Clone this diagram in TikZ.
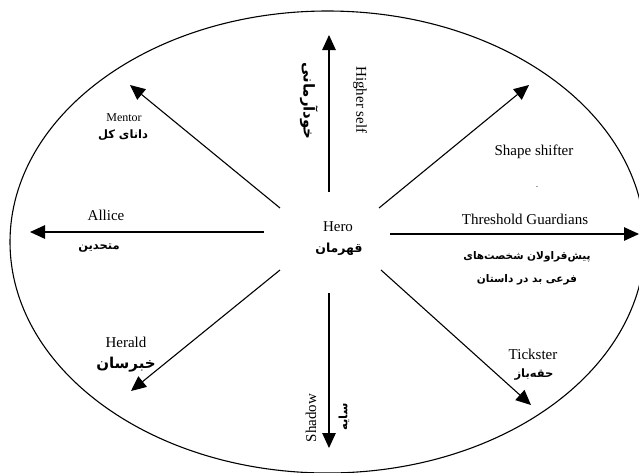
\documentclass[tikz,border=0pt]{standalone}
\usepackage{fontspec}
\setmainfont{Liberation Serif}
\newfontfamily\arabicfont[Script=Arabic]{DejaVu Sans}
\TeXXeTstate=1
\usetikzlibrary{arrows.meta}
\begin{document}
\begin{tikzpicture}[x=1pt,y=-1pt,
  arr/.style={line width=1.1pt,-{Triangle[length=15pt,width=13.5pt]}},
  en/.style={inner sep=0pt,font=\fontsize{15}{17}\selectfont},
  ensm/.style={inner sep=0pt,font=\fontsize{12}{14}\selectfont},
  fa/.style={inner sep=0pt,font=\arabicfont\bfseries\fontsize{#1}{#1}\selectfont}]
\useasboundingbox (0,0) rectangle (639,472);
\draw[line width=1.1pt] (327.5,242) ellipse [x radius=317.5pt, y radius=231pt];
% centre
\node[en] (hero) at (338,227) {Hero};
\node[fa=12.5] (herofa) at (339,249) {\beginR قهرمان\endR};
% arrow ends
\coordinate (sU) at (329,192); \coordinate (tU) at (329,35);
\coordinate (sD) at (329,293); \coordinate (tD) at (329,448);
\coordinate (sL) at (264,232); \coordinate (tL) at (30,232);
\coordinate (sR) at (390,234); \coordinate (tR) at (639,234);
\coordinate (sM) at (280,208); \coordinate (tM) at (130,85);
\coordinate (sS) at (379,208); \coordinate (tS) at (529,85);
\coordinate (sH) at (280,270); \coordinate (tH) at (131,391);
\coordinate (sT) at (381,270); \coordinate (tT) at (531,405);
\foreach \a in {U,D,L,R,M,S,H,T} \draw[arr] (s\a) -- (t\a);
% labels
\node[en,rotate=-90] (higher) at (360,100) {Higher self};
\node[fa=15,rotate=-90] (higherfa) at (309,101) {\beginR خودآرمانی\endR};
\node[ensm] (mentor) at (124,118) {Mentor};
\node[fa=11.5] (mentorfa) at (123,135) {\beginR دانای کل\endR};
\node[en] (allice) at (106,215) {Allice};
\node[fa=11.5] (allicefa) at (99,248) {\beginR متحدین\endR};
\node[en] (shape) at (534,152) {Shape shifter};
\node[inner sep=0pt,font=\fontsize{6}{6}\selectfont] (mark) at (537,188) {-};
\node[en] (thresh) at (525,219) {Threshold Guardians};
\node[fa=10.5] (threshfa1) at (527,257) {\beginR پیش‌قراولان شخصت‌های\endR};
\node[fa=10.5] (threshfa2) at (527,280) {\beginR فرعی بد در داستان\endR};
\node[en] (herald) at (126,342) {Herald};
\node[fa=15] (heraldfa) at (126,365) {\beginR خبرسان\endR};
\node[en] (trick) at (533,354) {Tickster};
\node[fa=11.5] (trickfa) at (534,375) {\beginR حقه‌باز\endR};
\node[en,rotate=90] (shadow) at (311,418) {Shadow};
\node[fa=11.5,rotate=90] (shadowfa) at (344,417) {\beginR سایه\endR};
\end{tikzpicture}
\end{document}
